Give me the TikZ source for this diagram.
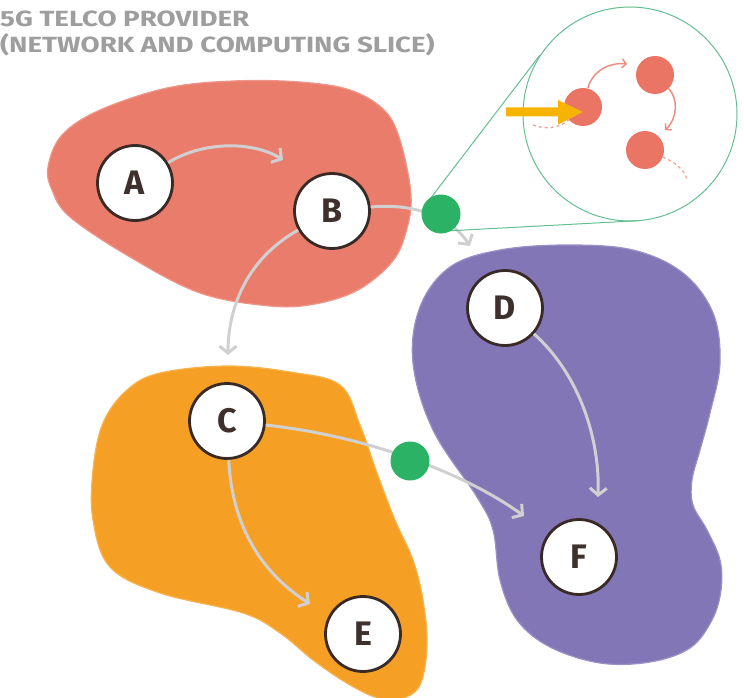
\documentclass[tikz,border=0pt]{standalone}
\usepackage{fontspec}
\setmainfont{Fira Sans}
\usetikzlibrary{arrows.meta}
\definecolor{redblob}{RGB}{234,124,108}
\definecolor{orangeblob}{RGB}{245,160,36}
\definecolor{purpleblob}{RGB}{131,118,182}
\definecolor{dotgreen}{RGB}{44,178,100}
\definecolor{calloutgreen}{RGB}{100,190,145}
\definecolor{nodeborder}{RGB}{58,42,38}
\definecolor{nodetext}{RGB}{62,48,44}
\definecolor{arrowgray}{RGB}{208,208,210}
\definecolor{titlegray}{RGB}{158,158,158}
\definecolor{smallred}{RGB}{235,117,101}
\definecolor{yellowarrow}{RGB}{246,180,0}
\begin{document}
\begin{tikzpicture}[x=1pt,y=-1pt,
  blob/.style={line width=1.2pt},
  nodecirc/.style={circle, draw=nodeborder, line width=2.8pt, fill=white,
    minimum size=75pt, inner sep=0pt, text=nodetext,
    font=\fontsize{34}{34}\selectfont\bfseries},
  flow/.style={draw=arrowgray, line width=3pt,
    -{Straight Barb[length=7pt,width=17pt,line width=3pt]}},
  gdot/.style={circle, fill=dotgreen, minimum size=39pt, inner sep=0pt},
  rdot/.style={circle, fill=smallred, minimum size=38pt, inner sep=0pt},
  smallflow/.style={draw=smallred!85!white, line width=1.4pt,
    -{Straight Barb[length=4pt,width=9pt,line width=1.4pt]}},
  smalldash/.style={draw=smallred!70!white, line width=1.2pt, dashed, dash pattern=on 3pt off 3pt},
  tline/.style={draw=calloutgreen, line width=1pt},
  titletext/.style={anchor=base west, inner sep=0pt, text=titlegray,
    font=\fontsize{22}{24}\selectfont\bfseries}
]
\useasboundingbox (0,0) rectangle (744,698);
\clip (0,0) rectangle (744,698);

% title
\node[titletext] (t1) at (0,26.5) {\scalebox{1.26}[1]{5G TELCO PROVIDER}};
\node[titletext] (t2) at (0,53) {\scalebox{1.26}[1]{(NETWORK AND COMPUTING SLICE)}};

% blobs
\fill[redblob, draw=redblob!80!white, blob] plot[smooth cycle, tension=0.6] coordinates {
  (48,167) (62,135) (100,110) (167,88) (233,81) (300,82) (350,90) (384,110)
  (400,140) (411,195) (406,232) (392,262) (358,290) (315,304) (270,306)
  (200,293) (130,257) (70,217) (52,190)};
\fill[orangeblob, draw=orangeblob!80!white, blob] plot[smooth cycle, tension=0.6] coordinates {
  (160,373) (227,366) (290,372) (340,385) (360,425) (377,473) (395,520)
  (413,560) (423,600) (427,645) (420,685) (400,699) (375,697) (345,682)
  (313,660) (280,633) (243,613) (160,593) (110,567) (93,520) (93,470)
  (103,423) (127,390)};
\fill[purpleblob, draw=purpleblob!80!white, blob] plot[smooth cycle, tension=0.6] coordinates {
  (500,250) (567,245) (633,250) (683,273) (713,313) (720,363) (710,413)
  (700,450) (692,480) (693,505) (707,530) (720,560) (721,590) (712,620)
  (690,648) (650,662) (600,663) (550,647) (517,620) (500,580) (493,530)
  (477,497) (433,430) (413,363) (420,307) (450,267)};

% main nodes
\node[nodecirc] (A) at (135,183) {A};
\node[nodecirc] (B) at (332,211) {B};
\node[nodecirc] (C) at (227,421) {C};
\node[nodecirc] (D) at (505,308) {D};
\node[nodecirc] (E) at (363,634) {E};
\node[nodecirc] (F) at (579,557) {F};

% free arrow ends
\coordinate (a1) at (283,160);
\coordinate (b1) at (470,246);
\coordinate (b2) at (228,355);
\coordinate (c1) at (310,604);
\coordinate (c2) at (524,516);
\coordinate (d1) at (598,497);

% connectors
\draw[flow] (A) .. controls (205,140) and (255,142) .. (a1);
\draw[flow] (B) .. controls (410,203) and (450,215) .. (b1);
\draw[flow] (B) .. controls (245,260) and (228,310) .. (b2);
\draw[flow] (C) .. controls (232,530) and (265,575) .. (c1);
\draw[flow] (C) .. controls (360,435) and (460,470) .. (c2);
\draw[flow] (D) .. controls (580,375) and (600,440) .. (d1);

% callout
\node[circle, draw=calloutgreen, line width=1pt, fill=white, minimum size=214pt, inner sep=0pt] (zoomc) at (630,114) {};
\coordinate (tp1) at (430,199);
\coordinate (tq1) at (540,55);
\coordinate (tp2) at (446,231);
\coordinate (tq2) at (636.7,220.8);
\draw[tline] (tp1) -- (tq1);
\draw[tline] (tp2) -- (tq2);

% green dots
\node[gdot] (g1) at (441,214) {};
\node[gdot] (g2) at (410,461) {};

% callout contents
\node[rdot] (r1) at (583,107) {};
\node[rdot] (r2) at (655,75) {};
\node[rdot] (r3) at (645,150) {};
\coordinate (s1) at (627,64);
\coordinate (s2) at (665,130);
\coordinate (s3) at (533,125);
\coordinate (s4) at (687,180);
\draw[smallflow] (r1) .. controls (592,72) and (608,62) .. (s1);
\draw[smallflow] (r2) .. controls (678,98) and (678,118) .. (s2);
\draw[smalldash] (s3) .. controls (545,130) and (560,128) .. (r1);
\draw[smalldash] (r3) .. controls (675,162) and (685,170) .. (s4);

% yellow arrow
\fill[yellowarrow] (506,107.5) -- (558,107.5) -- (558,100) -- (583,112) -- (558,124.5) -- (558,116.5) -- (506,116.5) -- cycle;
\end{tikzpicture}
\end{document}
